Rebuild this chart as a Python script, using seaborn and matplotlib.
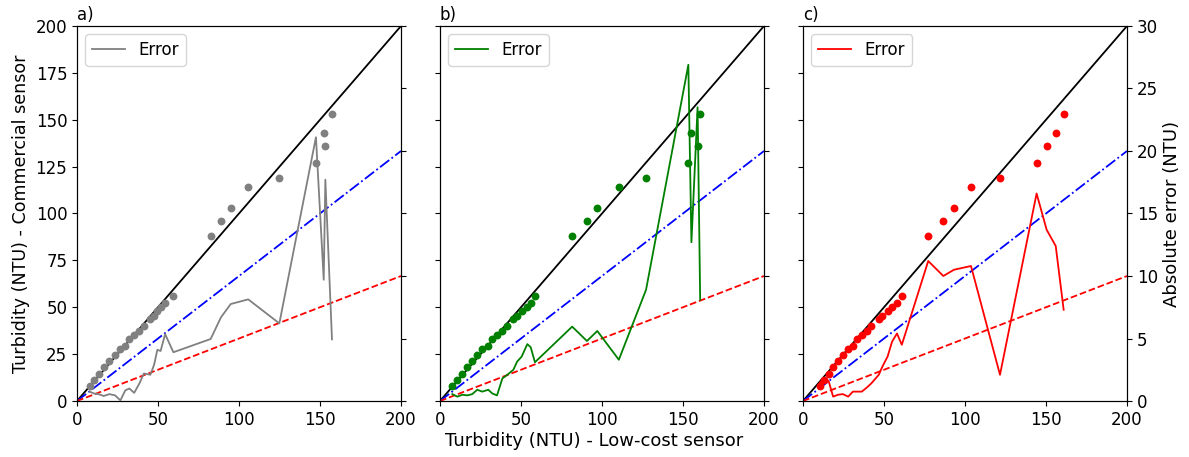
import numpy as np
import matplotlib
matplotlib.use("Agg")
import matplotlib.pyplot as plt
import seaborn as sns

# Commercial sensor turbidity (NTU) - shared by all panels
commercial = [8, 11, 14.5, 18, 21.5, 24.5, 27.5, 29.5, 33, 35, 37.5, 40, 44, 45.5, 48, 50, 52.5, 56,
              88, 96, 103, 114, 119, 127, 136, 143, 153]

# Low-cost sensor turbidity (NTU) per panel
lowcost_a = [7.8, 10.5, 13.3, 16.5, 20.0, 23.5, 26.8, 29.8, 32.3, 35.3, 38.5, 41.3, 45.3, 47.6, 49.6, 51.6, 54.4, 59.5,
             82.5, 88.9, 94.9, 105.7, 124.9, 147.5, 153.3, 152.3, 157.4]
lowcost_b = [7.6, 10.7, 13.8, 16.9, 19.9, 23.0, 26.1, 29.8, 32.3, 35.2, 38.5, 41.6, 45.3, 47.6, 50.4, 53.9, 56.0, 58.6,
             81.6, 90.7, 97.1, 110.4, 127.2, 153.3, 159.0, 155.2, 160.6]
lowcost_c = [10.5, 12.9, 15.8, 18.6, 21.6, 24.6, 27.9, 30.8, 33.4, 36.3, 39.6, 42.1, 46.8, 49.0, 52.2, 55.0, 58.0, 61.0,
             77.3, 86.6, 93.2, 103.7, 121.6, 144.2, 150.4, 156.0, 160.9]

# Absolute error (NTU) per panel
error_a = [0.75, 0.6, 0.55, 0.4, 0.55, 0.45, 0.05, 0.85, 1.0, 0.65, 1.4, 2.2, 2.1, 2.9, 4.1, 4.0, 5.35, 3.9,
           4.96, 6.7, 7.76, 8.13, 6.21, 21.1, 17.7, 9.7, 4.93]
error_b = [0.55, 0.35, 0.5, 0.45, 0.55, 0.9, 0.75, 0.9, 0.6, 0.45, 1.8, 2.1, 2.5, 3.15, 3.55, 4.55, 4.3, 3.1,
           5.95, 4.8, 5.6, 3.3, 8.9, 26.9, 23.5, 12.7, 8.1]
error_c = [1.5, 1.55, 1.6, 0.35, 0.5, 0.55, 0.35, 0.75, 0.75, 0.75, 1.1, 1.4, 2.1, 2.75, 3.55, 4.75, 5.4, 4.5,
           11.2, 10.0, 10.5, 10.8, 2.1, 16.6, 13.7, 12.4, 7.3]

panel_labels = ["a)", "b)", "c)"]
panel_colors = ["grey", "green", "red"]
lowcost_sets = [lowcost_a, lowcost_b, lowcost_c]
error_sets = [error_a, error_b, error_c]
ref_slopes = [1.0, 2 / 3, 1 / 3]
ref_styles = [("black", "-"), ("blue", "-."), ("red", "--")]

FS = 12
LFS = 13
plt.rcParams["font.family"] = ["DejaVu Sans"]
plt.rcParams["font.size"] = FS

fig = plt.figure(figsize=(11.89, 4.57), dpi=100)
lefts = [77 / 1189, 440 / 1189, 803 / 1189]
w = 324 / 1189
b = 56 / 457
h = 375 / 457

for i in range(3):
    ax = fig.add_axes([lefts[i], b, w, h])
    for s, (c, ls) in zip(ref_slopes, ref_styles):
        ax.axline((0, 0), slope=s, color=c, linestyle=ls, linewidth=1.3)
    sns.scatterplot(x=lowcost_sets[i], y=commercial, ax=ax, color=panel_colors[i],
                    s=32, linewidth=0, zorder=3)
    ax.set_xlim(0, 200)
    ax.set_ylim(0, 200)
    ax.set_xticks(np.arange(0, 201, 50))
    ax.set_yticks(np.arange(0, 201, 25))
    ax.tick_params(labelsize=FS)
    if i != 0:
        ax.set_yticklabels([])
    else:
        ax.set_ylabel("Turbidity (NTU) - Commercial sensor", fontsize=12.6)
    ax.set_title(panel_labels[i], loc="left", fontsize=FS, pad=4)

    ax2 = ax.twinx()
    sns.lineplot(x=lowcost_sets[i], y=error_sets[i], ax=ax2, color=panel_colors[i],
                 linewidth=1.3, label="Error", estimator=None)
    ax2.set_ylim(0, 30)
    ax2.set_yticks(np.arange(0, 31, 5))
    ax2.tick_params(labelsize=FS)
    if i != 2:
        ax2.set_yticklabels([])
    else:
        ax2.set_ylabel("Absolute error (NTU)", fontsize=LFS)
    ax2.legend(loc="upper left", fontsize=FS)

fig.text(0.5, 0.035, "Turbidity (NTU) - Low-cost sensor", ha="center", va="center", fontsize=LFS)

fig.savefig("out.png", dpi=100)
